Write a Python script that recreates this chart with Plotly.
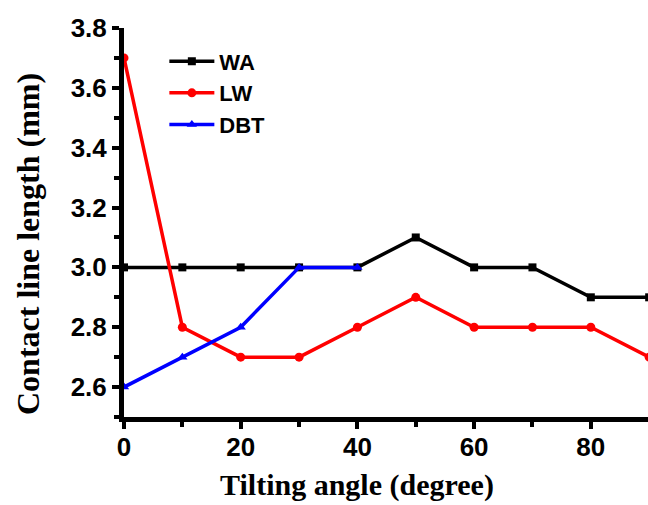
import plotly.graph_objects as go

x_all = [0, 10, 20, 30, 40, 50, 60, 70, 80, 90]
wa = [3.0, 3.0, 3.0, 3.0, 3.0, 3.1, 3.0, 3.0, 2.9, 2.9]
lw = [3.7, 2.8, 2.7, 2.7, 2.8, 2.9, 2.8, 2.8, 2.8, 2.7]
x_dbt = [0, 10, 20, 30, 40]
dbt = [2.6, 2.7, 2.8, 3.0, 3.0]
x_title = "Tilting angle (degree)"
y_title = "Contact line length (mm)"

fig = go.Figure()
fig.add_trace(go.Scatter(x=x_all, y=wa, name="WA", mode="lines+markers",
                         line=dict(color="black", width=3.5),
                         marker=dict(symbol="square", size=8, color="black")))
fig.add_trace(go.Scatter(x=x_all, y=lw, name="LW", mode="lines+markers",
                         line=dict(color="#ff0000", width=3.5),
                         marker=dict(symbol="circle", size=9, color="#ff0000")))
fig.add_trace(go.Scatter(x=x_dbt, y=dbt, name="DBT", mode="lines+markers",
                         line=dict(color="#0000ff", width=3.5),
                         marker=dict(symbol="triangle-up", size=9, color="#0000ff")))

tickfont = dict(family="Liberation Sans", size=26, color="black", weight="bold")
titlefont_x = dict(family="Liberation Serif", size=30, color="black", weight="bold")
titlefont_y = dict(family="Liberation Serif", size=32, color="black", weight="bold")

fig.update_layout(
    width=648, height=505,
    margin=dict(l=124, r=0, t=28, b=88),
    plot_bgcolor="white", paper_bgcolor="white",
    showlegend=True,
    legend=dict(x=0.077, y=0.968, xanchor="left", yanchor="top",
                font=dict(family="Liberation Sans", size=22, color="black", weight="bold"),
                bgcolor="rgba(0,0,0,0)", tracegroupgap=0, itemwidth=45),
    xaxis=dict(range=[0, 89.8], tick0=0, dtick=20, showgrid=False, zeroline=False,
               showline=True, linecolor="black", linewidth=5,
               ticks="outside", ticklen=7, tickwidth=4, tickcolor="black",
               minor=dict(dtick=10, ticks="outside", ticklen=5, tickwidth=4, tickcolor="black"),
               tickfont=tickfont, ticklabelstandoff=-4),
    yaxis=dict(range=[2.5, 3.8], tick0=2.6, dtick=0.2, tickformat=".1f",
               showgrid=False, zeroline=False,
               showline=True, linecolor="black", linewidth=5,
               ticks="outside", ticklen=7, tickwidth=4, tickcolor="black",
               minor=dict(dtick=0.1, ticks="outside", ticklen=5, tickwidth=4, tickcolor="black"),
               tickfont=tickfont),
    annotations=[
        dict(text=x_title, xref="paper", yref="paper", x=(357 - 124) / 524, y=(417 - 485) / 389,
             xanchor="center", yanchor="middle", showarrow=False, font=titlefont_x),
        dict(text=y_title, xref="paper", yref="paper", x=(28 - 124) / 524, y=(417 - 244) / 389,
             xanchor="center", yanchor="middle", showarrow=False, textangle=-90, font=titlefont_y),
    ],
)

fig.write_html("out.html")
